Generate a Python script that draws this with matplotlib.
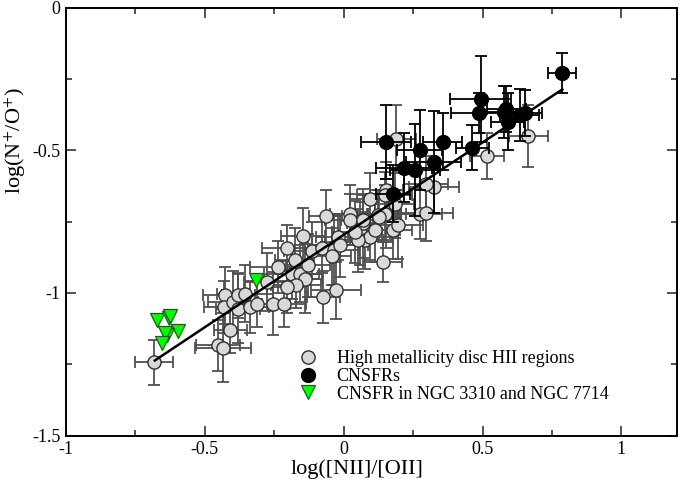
import matplotlib
matplotlib.use("Agg")
import matplotlib.pyplot as plt
from matplotlib.lines import Line2D

plt.rcParams['font.family'] = ['Liberation Serif', 'DejaVu Serif']
plt.rcParams['mathtext.fontset'] = 'stix'

# High metallicity disc HII regions
gx = [-0.683, -0.452, -0.434, -0.408, -0.428, -0.432, -0.400, -0.380, -0.356, -0.380, -0.338, -0.314, -0.278, -0.254, -0.215, -0.236,
      0.141, -0.065, -0.146, -0.204, -0.176, -0.188, -0.158, -0.140, -0.173, -0.206, -0.129, -0.116, -0.080, -0.035, -0.044, -0.020, -0.014,
      0.022, 0.022, 0.058, 0.070, 0.094, 0.076, 0.094, 0.112, 0.153, 0.123, 0.153, -0.029, -0.074,
      0.189, 0.516, 0.665, 0.325, 0.297, 0.147, 0.183, 0.070, 0.052, 0.147, 0.127, 0.177, 0.196, 0.273, 0.295, 0.039]
gy = [-1.244, -1.184, -1.192, -1.132, -1.009, -1.050, -1.032, -1.009, -1.003, -1.055, -1.050, -1.038, -0.962, -1.038, -1.040, -0.909,
      -0.892, -0.731, -0.802, -0.842, -0.884, -0.933, -0.933, -0.950, -0.974, -0.980, -0.904, -0.853, -0.842, -0.851, -0.872, -0.804, -0.833,
      -0.722, -0.743, -0.792, -0.757, -0.670, -0.816, -0.804, -0.781, -0.640, -0.728, -0.722, -0.991, -1.015,
      -0.461, -0.521, -0.450, -0.629, -0.619, -0.658, -0.687, -0.743, -0.816, -0.722, -0.734, -0.781, -0.761, -0.722, -0.720, -0.787]
gxerr = [0.07, 0.08, 0.10, 0.06, 0.08, 0.07, 0.09, 0.06, 0.10, 0.08, 0.07, 0.09, 0.08, 0.06, 0.08, 0.10,
         0.07, 0.06, 0.08, 0.09, 0.07, 0.10, 0.08, 0.06, 0.09, 0.07, 0.08, 0.10, 0.06, 0.09, 0.07, 0.08, 0.10,
         0.07, 0.09, 0.08, 0.06, 0.07, 0.10, 0.08, 0.09, 0.06, 0.08, 0.07, 0.09, 0.06,
         0.07, 0.06, 0.07, 0.09, 0.08, 0.10, 0.07, 0.08, 0.09, 0.06, 0.08, 0.07, 0.09, 0.08, 0.10, 0.08]
gyerr = [0.08, 0.09, 0.12, 0.08, 0.10, 0.09, 0.11, 0.08, 0.10, 0.12, 0.09, 0.08, 0.10, 0.11, 0.08, 0.09,
         0.07, 0.09, 0.10, 0.08, 0.11, 0.09, 0.10, 0.12, 0.08, 0.09, 0.11, 0.10, 0.09, 0.12, 0.10, 0.08, 0.11,
         0.10, 0.09, 0.11, 0.12, 0.09, 0.10, 0.08, 0.11, 0.10, 0.09, 0.12, 0.10, 0.09,
         0.12, 0.08, 0.11, 0.09, 0.10, 0.08, 0.12, 0.09, 0.11, 0.10, 0.08, 0.10, 0.12, 0.09, 0.10, 0.11]

# CNSFRs
bx = [0.787, 0.494, 0.486, 0.577, 0.585, 0.590, 0.633, 0.653, 0.153, 0.357, 0.273, 0.463, 0.217, 0.255, 0.324, 0.177]
by = [-0.231, -0.320, -0.369, -0.366, -0.355, -0.401, -0.377, -0.369, -0.471, -0.471, -0.500, -0.491, -0.561, -0.570, -0.541, -0.652]
bxerr = [0.05, 0.11, 0.10, 0.08, 0.07, 0.06, 0.07, 0.06, 0.09, 0.07, 0.08, 0.06, 0.10, 0.09, 0.10, 0.06]
byerr = [0.07, 0.15, 0.07, 0.09, 0.08, 0.10, 0.09, 0.08, 0.13, 0.10, 0.14, 0.08, 0.12, 0.16, 0.18, 0.10]

# CNSFR in NGC 3310 and NGC 7714
tx = [-0.672, -0.628, -0.625, -0.598, -0.638, -0.642, -0.654, -0.317]
ty = [-1.096, -1.087, -1.082, -1.135, -1.149, -1.142, -1.176, -0.956]

# linear fit
fit_x = [-0.68, 0.787]
fit_y = [-1.237, -0.287]

labels = ["High metallicity disc HII regions", "CNSFRs", "CNSFR in NGC 3310 and NGC 7714"]

fig = plt.figure(figsize=(6.8, 4.82), dpi=100)
ax = fig.add_axes([66/680, 1-435.5/482, (677-66)/680, (435.5-7.5)/482])

ax.errorbar(gx, gy, xerr=gxerr, yerr=gyerr, fmt='none', ecolor='#505050', elinewidth=1.3,
            capsize=4.5, capthick=1.3, zorder=1)
ax.plot(gx, gy, 'o', ms=9.5, mfc='#d9d9d9', mec='#303030', mew=1.0, zorder=2, linestyle='none')
ax.plot(fit_x, fit_y, '-', color='black', lw=1.8, zorder=3)
ax.errorbar(bx, by, xerr=bxerr, yerr=byerr, fmt='none', ecolor='black', elinewidth=1.3,
            capsize=4.5, capthick=1.3, zorder=4)
ax.plot(bx, by, 'o', ms=10, mfc='black', mec='black', zorder=5, linestyle='none')
ax.plot(tx, ty, 'v', ms=10, mfc='#00ff00', mec='#1a5a1a', mew=0.9, zorder=6, linestyle='none')

ax.set_xlim(-1, 1.2)
ax.set_ylim(-1.5, 0)
ax.set_xticks([-1, -0.5, 0, 0.5, 1])
ax.set_xticklabels(['-1', '-0.5', '0', '0.5', '1'])
ax.set_xticks([-0.75, -0.25, 0.25, 0.75], minor=True)
ax.set_yticks([-1.5, -1, -0.5, 0])
ax.set_yticklabels(['-1.5', '-1', '-0.5', '0'])
ax.set_yticks([-1.25, -0.75, -0.25], minor=True)
ax.tick_params(which='both', direction='in', top=True, right=True, labelsize=13, width=1.2, color='#333333')
ax.tick_params(which='major', length=7, pad=4)
ax.tick_params(which='minor', length=4)
for s in ax.spines.values():
    s.set_linewidth(1.4)

ax.set_xlabel("log([NII]/[OII]", fontsize=16)
ax.xaxis.set_label_coords((357-66)/611, -0.056)
ax.set_ylabel(r"log(N$^{+}$/O$^{+}$)", fontsize=16)
ax.yaxis.set_label_coords(-0.062, 0.69)

handles = [
    Line2D([], [], marker='o', ls='none', ms=9.5, mfc='#d9d9d9', mec='#303030', mew=1.0),
    Line2D([], [], marker='o', ls='none', ms=10, mfc='black', mec='black'),
    Line2D([], [], marker='v', ls='none', ms=10, mfc='#00ff00', mec='#1a5a1a', mew=0.9),
]
ax.legend(handles, labels, loc='upper left', bbox_to_anchor=((297-66)/611, (435.5-350)/428),
          frameon=False, fontsize=13, handlelength=1.2, handletextpad=1.0, labelspacing=0.05,
          borderpad=0, borderaxespad=0)

fig.savefig("out.png", dpi=100)
